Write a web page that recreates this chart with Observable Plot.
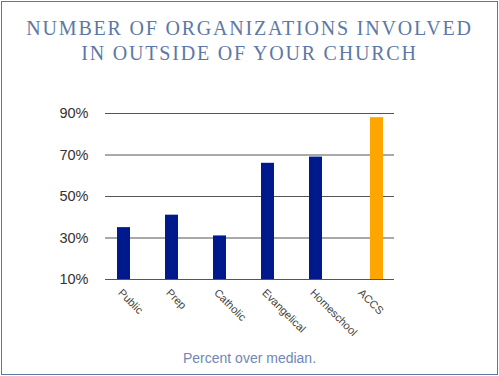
<!DOCTYPE html>
<html>
<head>
<meta charset="utf-8">
<script src="https://cdn.jsdelivr.net/npm/d3@7"></script>
<script src="https://cdn.jsdelivr.net/npm/@observablehq/plot@0.6"></script>
<style>
  html, body { margin: 0; padding: 0; background: #fff; }
  #wrap { position: relative; width: 499px; height: 376px; overflow: hidden; }
  #frame { position: absolute; left: 1px; top: 1px; width: 497px; height: 374px; box-sizing: border-box; border: 1px solid #5b77a3; }
  #title { position: absolute; left: 0; top: 16px; width: 499px; text-align: center; font-family: "Liberation Serif", serif; font-size: 20px; line-height: 25px; letter-spacing: 1.8px; color: #5b78a6; }
  #caption { position: absolute; left: 0; top: 350px; width: 499px; text-align: center; font-family: "Liberation Sans", sans-serif; font-size: 14px; color: #6f87b3; }
  #chart { position: absolute; left: 0; top: 0; }
</style>
</head>
<body>
<div id="wrap">
  <div id="chart"></div>
  <div id="frame"></div>
  <div id="title">NUMBER OF ORGANIZATIONS INVOLVED<br>IN OUTSIDE OF YOUR CHURCH</div>
  <div id="caption">Percent over median.</div>
</div>
<script>
const categories = ["Public", "Prep", "Catholic", "Evangelical", "Homeschool", "ACCS"];
const otherValues = [35, 41, 31, 66, 69, null];
const accsValues = [null, null, null, null, null, 88];
const yTicks = [10, 30, 50, 70, 90];

const other = categories.map((c, i) => ({category: c, value: otherValues[i]})).filter(d => d.value != null);
const accs = categories.map((c, i) => ({category: c, value: accsValues[i]})).filter(d => d.value != null);

const chart = Plot.plot({
  width: 499,
  height: 376,
  marginLeft: 105,
  marginRight: 105,
  marginTop: 113,
  marginBottom: 97,
  style: {fontFamily: "Liberation Sans, sans-serif", background: "transparent", color: "#333"},
  x: {domain: categories, padding: 0, axis: null},
  y: {domain: [10, 90], ticks: yTicks, tickFormat: d => d + "%", tickSize: 0, tickPadding: 17, label: null},
  marks: [
    Plot.axisY({ticks: yTicks, tickFormat: d => d + "%", tickSize: 0, tickPadding: 17, fontSize: 14.5, fill: "#333", label: null}),
    Plot.ruleY(yTicks, {stroke: "#555", strokeWidth: 1.2}),
    Plot.barY(other, {x: "category", y1: 10, y2: "value", fill: "#001a8e", insetLeft: 11, insetRight: 24}),
    Plot.barY(accs, {x: "category", y1: 10, y2: "value", fill: "#ffa500", insetLeft: 24, insetRight: 11}),
    Plot.text(categories, {x: d => d, frameAnchor: "bottom", rotate: 45, textAnchor: "start", dx: -13, dy: 14, fontSize: 11, fill: "#444"})
  ]
});
document.getElementById("chart").appendChild(chart);
</script>
</body>
</html>
